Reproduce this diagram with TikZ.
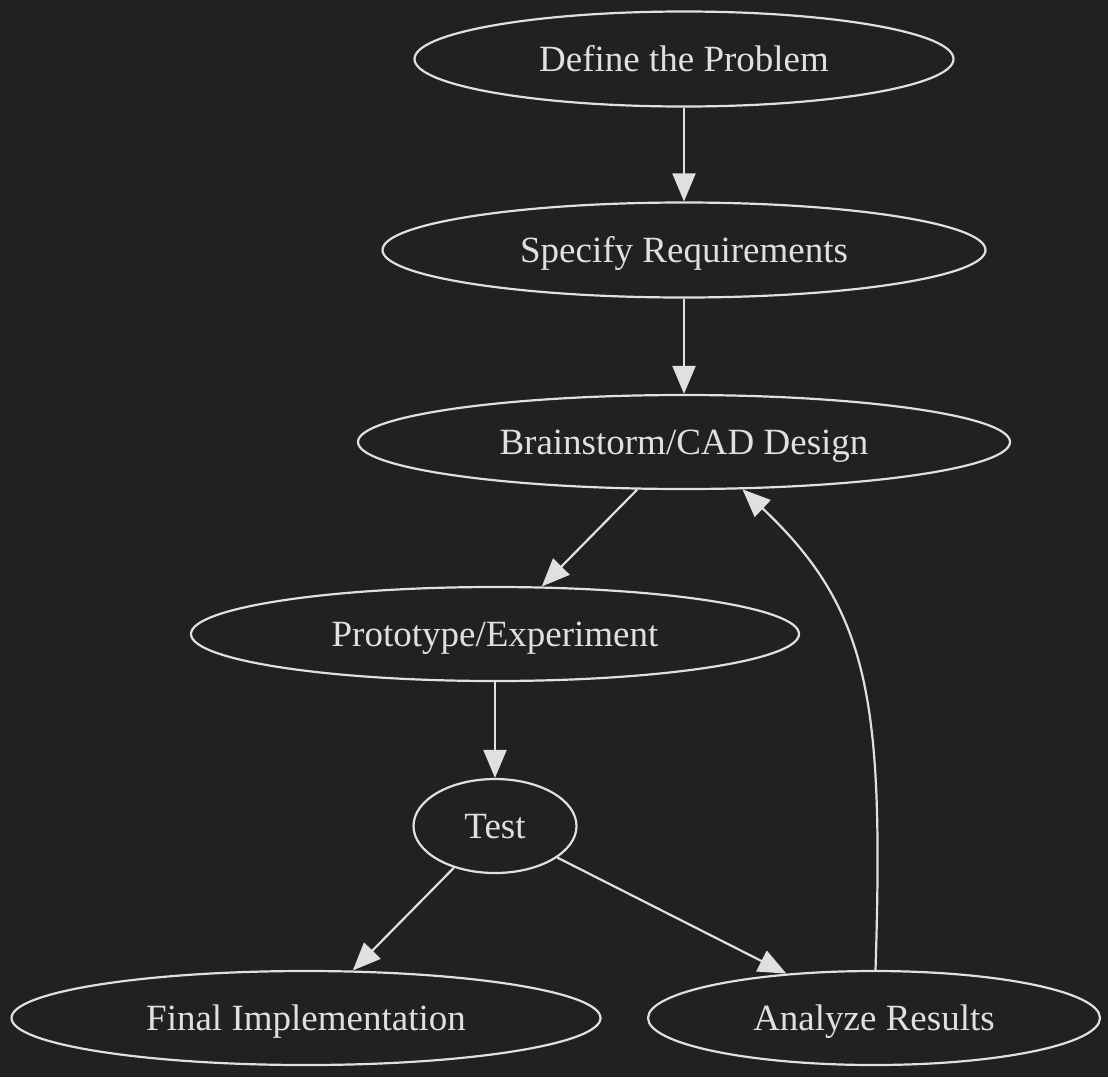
\documentclass[tikz,border=0pt]{standalone}
\usepackage{fontspec}
\setmainfont{Liberation Serif}
\newfontfamily\graphfont{Liberation Serif}
\usetikzlibrary{shapes.geometric,arrows.meta}
\definecolor{bgc}{HTML}{212121}
\definecolor{fgc}{HTML}{E0E0E0}
\begin{document}
\begin{tikzpicture}[x=1pt,y=-1pt,
  stage/.style={ellipse, draw=fgc, line width=2.2pt, text=fgc, inner sep=0pt,
    font=\graphfont\fontsize{37}{40}\selectfont, text height=24pt, text depth=0pt},
  edge/.style={draw=fgc, line width=2.2pt, -{Triangle[length=28pt,width=23pt]}}]
\fill[bgc] (0,0) rectangle (1108,1077);
\useasboundingbox (0,0) rectangle (1108,1077);
\node[stage, minimum width=539pt, minimum height=95pt] (DP) at (684,59) {Define the Problem};
\node[stage, minimum width=603pt, minimum height=95pt] (SR) at (684,250) {Specify Requirements};
\node[stage, minimum width=652pt, minimum height=94pt] (BC) at (684,442) {Brainstorm/CAD Design};
\node[stage, minimum width=608pt, minimum height=94pt] (PE) at (495,634) {Prototype/Experiment};
\node[stage, minimum width=163pt, minimum height=94pt] (TE) at (495,826) {Test};
\node[stage, minimum width=589pt, minimum height=94pt] (FI) at (306,1018) {Final Implementation};
\node[stage, minimum width=452pt, minimum height=94pt] (AR) at (874,1018) {Analyze Results};
\draw[edge] (DP) -- (SR);
\draw[edge] (SR) -- (BC);
\draw[edge] (BC) -- (PE);
\draw[edge] (PE) -- (TE);
\draw[edge] (TE) -- (FI);
\draw[edge] (TE) -- (AR);
\draw[edge] (AR) .. controls (884,700) and (870,610) .. (BC.-39.5);
\end{tikzpicture}
\end{document}
